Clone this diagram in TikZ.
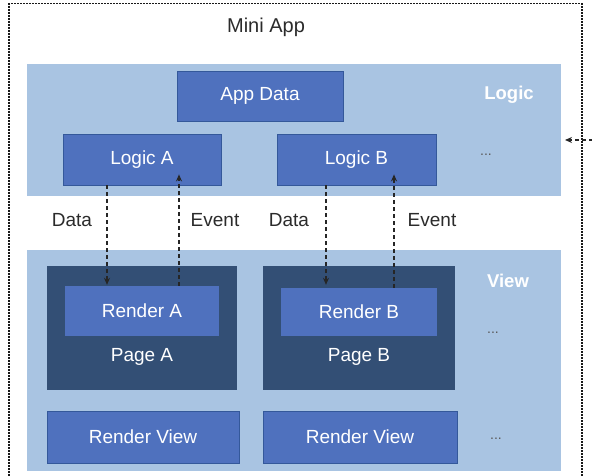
\documentclass[tikz,border=0pt]{standalone}
\usepackage{fontspec}
\setmainfont{Liberation Sans}
\usetikzlibrary{arrows.meta,calc}
\definecolor{bandblue}{HTML}{A9C4E2}
\definecolor{boxblue}{HTML}{4F71BE}
\definecolor{boxedge}{HTML}{34589A}
\definecolor{pagenavy}{HTML}{334F75}
\definecolor{txtdark}{HTML}{2B2B2B}
\tikzset{
  band/.style={fill=bandblue,draw=none},
  bluebox/.style={fill=boxblue,draw=boxedge,line width=0.8pt,text=white,
    font=\fontsize{19}{22}\selectfont,inner sep=0pt},
  innerbox/.style={fill=boxblue,draw=none,text=white,
    font=\fontsize{19}{22}\selectfont,inner sep=0pt},
  pagebox/.style={fill=pagenavy,draw=none,inner sep=0pt},
  pagelabel/.style={text=white,font=\fontsize{19}{22}\selectfont,inner sep=0pt},
  lbl/.style={text=txtdark,font=\fontsize{19}{22}\selectfont,inner sep=0pt},
  layerlbl/.style={text=white,font=\bfseries\fontsize{18.5}{22}\selectfont,inner sep=0pt},
  dots/.style={text=black!65,font=\fontsize{14}{16}\selectfont,inner sep=0pt},
  flow/.style={draw=black!85,line width=1.3pt,dash pattern=on 4pt off 3pt,
    -{Stealth[length=7pt,width=6pt]}},
  outerdash/.style={draw=black!90,line width=1.5pt,dash pattern=on 2pt off 1pt}
}
\begin{document}
\begin{tikzpicture}[x=1pt,y=-1pt]
\useasboundingbox (0,0) rectangle (592,476);
\begin{scope}
\clip (0,0) rectangle (592,476);
\fill[white] (0,0) rectangle (592,476);
\node[outerdash,minimum width=573pt,minimum height=490pt,inner sep=0pt,anchor=north west] (outer) at (8,3) {};
\node[lbl,font=\fontsize{20}{22}\selectfont] (title) at (266,27) {Mini App};
% bands
\node[band,minimum width=534pt,minimum height=132pt,inner sep=0pt] (lb) at (294,130) {};
\node[band,minimum width=534pt,minimum height=221pt,inner sep=0pt] (vb) at (294,360.5) {};
\node[layerlbl] (logiclbl) at (509,95) {Logic};
\node[layerlbl] (viewlbl) at (508,281) {View};
% logic boxes
\node[bluebox,minimum width=166pt,minimum height=50pt] (appdata) at (260,96) {App Data};
\node[bluebox,minimum width=158pt,minimum height=51pt] (la) at (142,159.5) {Logic A};
\node[bluebox,minimum width=159pt,minimum height=51pt] (lgb) at (356.5,159.5) {Logic B};
\node[dots] (ldots) at (486,155) {...};
% pages
\node[pagebox,minimum width=190pt,minimum height=124pt] (pa) at (142,328) {};
\node[pagebox,minimum width=192pt,minimum height=124pt] (pb) at (359,328) {};
\node[innerbox,minimum width=154pt,minimum height=50pt] (ra) at (142,311) {Render A};
\node[innerbox,minimum width=156pt,minimum height=48pt] (rb) at (359,312) {Render B};
\node[pagelabel] (pal) at (142,357) {Page A};
\node[pagelabel] (pbl) at (359,357) {Page B};
\node[dots] (vdots) at (493,333) {...};
% render views
\node[bluebox,minimum width=192pt,minimum height=52pt] (rv1) at (143,437) {Render View};
\node[bluebox,minimum width=194pt,minimum height=52pt] (rv2) at (360,437) {Render View};
\node[dots] (rdots) at (496,439) {...};
% labels between
\node[lbl] (d1) at (72,220) {Data};
\node[lbl] (e1) at (215,220) {Event};
\node[lbl] (d2) at (289,220) {Data};
\node[lbl] (e2) at (432,220) {Event};
% arrows
\coordinate (dA1) at (la.south -| 107,0);
\coordinate (dA2) at (ra.north -| 107,0);
\coordinate (eA1) at (ra.north -| 179,0);
\coordinate (eA2) at ($(la.south -| 179,0)+(0,-11)$);
\coordinate (dB1) at (lgb.south -| 326,0);
\coordinate (dB2) at (rb.north -| 326,0);
\coordinate (eB1) at (rb.north -| 394,0);
\coordinate (eB2) at ($(lgb.south -| 394,0)+(0,-11)$);
\draw[flow] (dA1) -- ($(dA2)+(0,-1)$);
\draw[flow] (eA1) -- (eA2);
\draw[flow] (dB1) -- ($(dB2)+(0,-3)$);
\draw[flow] (eB1) -- (eB2);
% external arrow
\coordinate (ext) at (600,140);
\coordinate (exttip) at (565,140);
\draw[flow] (ext) -- (exttip);
\end{scope}
\end{tikzpicture}
\end{document}
